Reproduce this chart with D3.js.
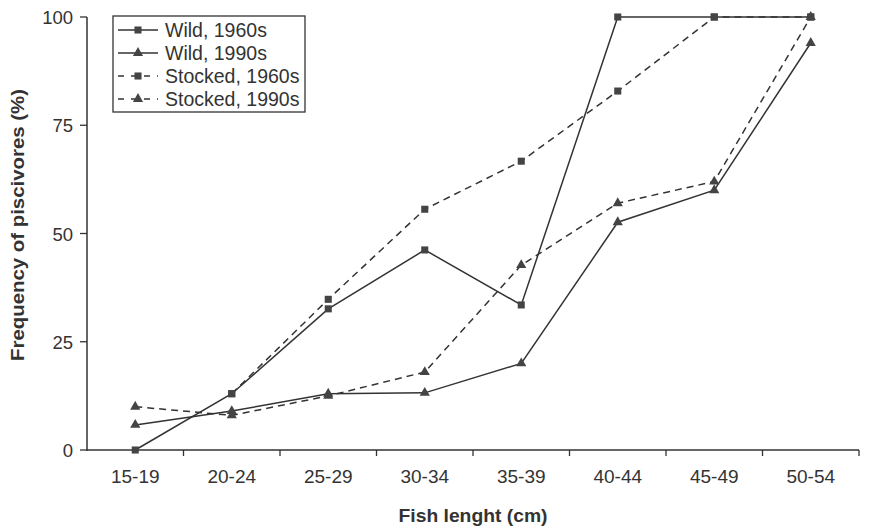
<!DOCTYPE html>
<html><head><meta charset="utf-8">
<script src="https://cdn.jsdelivr.net/npm/d3@7"></script>
<style>body{margin:0;background:#fff}</style>
</head><body>
<svg id="c" width="871" height="528"></svg>
<script>
const categories = ["15-19","20-24","25-29","30-34","35-39","40-44","45-49","50-54"];
const wild1960 = [0,13,32.6,46.2,33.5,100,100,100];
const wild1990 = [5.8,9,13,13.2,20,52.6,60,94];
const stocked1960 = [null,13,34.8,55.6,66.7,82.9,100,100];
const stocked1990 = [10,8,12.5,18,42.7,57,62,100];
const yTicks = [0,25,50,75,100];
const seriesNames = ["Wild, 1960s","Wild, 1990s","Stocked, 1960s","Stocked, 1990s"];

const series = [
  {name: seriesNames[0], values: wild1960, dash: null, marker: "square"},
  {name: seriesNames[1], values: wild1990, dash: null, marker: "triangle"},
  {name: seriesNames[2], values: stocked1960, dash: "7,5", marker: "square"},
  {name: seriesNames[3], values: stocked1990, dash: "7,5", marker: "triangle"}
];

const svg = d3.select("#c");
const left = 87, right = 859;
const x = d3.scaleBand().domain(categories).range([left, right]).paddingInner(0).paddingOuter(0);
const y = d3.scaleLinear().domain([0,100]).range([450, 17]);
const ink = "#333";
const font = "Arial, 'Liberation Sans', sans-serif";

// axes
const gx = svg.append("g").attr("transform","translate(0,450)");
gx.append("line").attr("x1",left).attr("x2",right).attr("stroke",ink).attr("stroke-width",1.5);
const bounds = categories.map(c=>x(c)).concat([x(categories[categories.length-1])+x.bandwidth()]);
gx.selectAll("line.t").data(bounds.slice(1)).join("line").attr("class","t")
  .attr("x1",d=>d).attr("x2",d=>d).attr("y1",0).attr("y2",6).attr("stroke",ink).attr("stroke-width",1.3);
gx.selectAll("text").data(categories).join("text")
  .attr("x",d=>x(d)+x.bandwidth()/2).attr("y",33).attr("text-anchor","middle")
  .attr("font-family",font).attr("font-size",19).attr("fill",ink).text(d=>d);

const gy = svg.append("g");
gy.append("line").attr("x1",left).attr("x2",left).attr("y1",y(0)+1).attr("y2",y(100)).attr("stroke",ink).attr("stroke-width",1.5);
gy.selectAll("line.t").data(yTicks).join("line").attr("class","t")
  .attr("x1",left-7).attr("x2",left).attr("y1",d=>y(d)).attr("y2",d=>y(d)).attr("stroke",ink).attr("stroke-width",1.3);
gy.selectAll("text").data(yTicks).join("text")
  .attr("x",73).attr("y",d=>y(d)+7).attr("text-anchor","end")
  .attr("font-family",font).attr("font-size",18.5).attr("fill",ink).text(d=>d);

svg.append("text").attr("transform","translate(24,225) rotate(-90)").attr("text-anchor","middle")
  .attr("font-family",font).attr("font-size",18).attr("font-weight","bold").attr("fill",ink)
  .attr("textLength",272).attr("lengthAdjust","spacingAndGlyphs")
  .text("Frequency of piscivores (%)");
svg.append("text").attr("x",473).attr("y",522).attr("text-anchor","middle")
  .attr("font-family",font).attr("font-size",18).attr("font-weight","bold").attr("fill",ink)
  .attr("textLength",149).attr("lengthAdjust","spacingAndGlyphs")
  .text("Fish lenght (cm)");

const cx = c => x(c)+x.bandwidth()/2;
const sym = {square: d3.symbol().type(d3.symbolSquare).size(50)(), triangle: d3.symbol().type(d3.symbolTriangle).size(45)()};

series.forEach(s=>{
  const pts = categories.map((c,i)=>({c, v:s.values[i]})).filter(d=>d.v!==null);
  const line = d3.line().x(d=>cx(d.c)).y(d=>y(d.v));
  svg.append("path").datum(pts).attr("d",line).attr("fill","none").attr("stroke",ink)
    .attr("stroke-width",1.5).attr("stroke-dasharray",s.dash);
  svg.selectAll(null).data(pts).join("path").attr("d",sym[s.marker])
    .attr("transform",d=>`translate(${cx(d.c)},${y(d.v)})`).attr("fill","#444");
});

// legend
const lg = svg.append("g");
lg.append("rect").attr("x",113).attr("y",16).attr("width",192).attr("height",96)
  .attr("fill","#fff").attr("stroke",ink).attr("stroke-width",1.3);
series.forEach((s,i)=>{
  const yy = 30 + i*23;
  lg.append("line").attr("x1",118).attr("x2",158).attr("y1",yy).attr("y2",yy).attr("stroke",ink)
    .attr("stroke-width",1.5).attr("stroke-dasharray",s.dash?"6,7":null);
  lg.append("path").attr("d",sym[s.marker]).attr("transform",`translate(138,${yy})`).attr("fill","#444");
  lg.append("text").attr("x",165).attr("y",yy+7).attr("font-family",font).attr("font-size",19.5)
    .attr("fill",ink).text(s.name);
});
</script>
</body></html>
